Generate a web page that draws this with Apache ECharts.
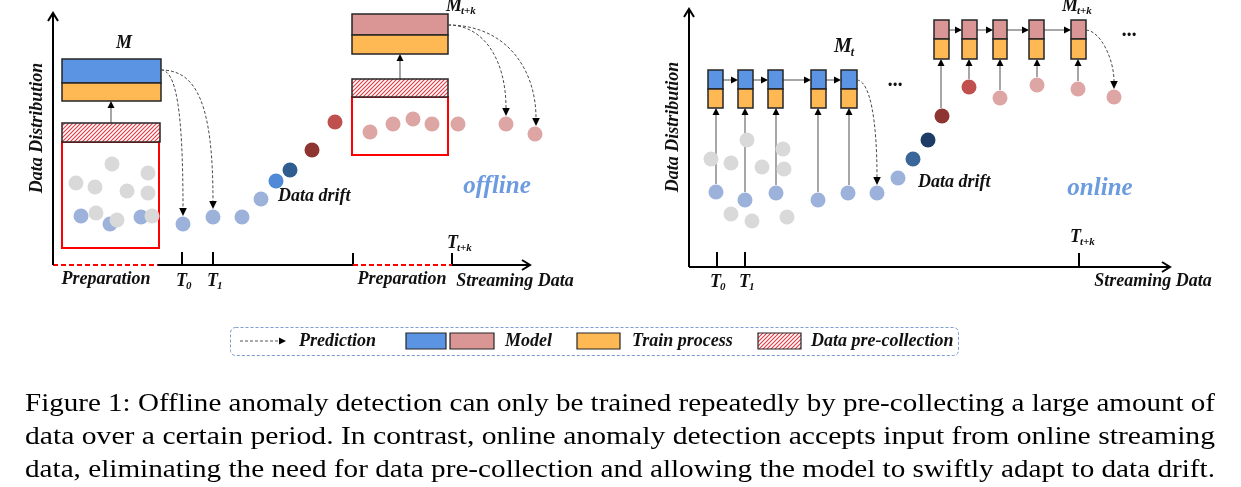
<!DOCTYPE html>
<html><head><meta charset="utf-8">
<script src="https://cdn.jsdelivr.net/npm/echarts@6/dist/echarts.min.js"></script>
<style>html,body{margin:0;padding:0;background:#fff}#c{width:1241px;height:487px}</style>
</head><body><div id="c"></div>
<script>
// ---------------- DATA (diagram coordinates) ----------------
// Offline panel
const offGrayDots   = [[112,164],[76,183],[95,187],[127,191],[148,173],[148,193],[96,213],[117,220],[152,216]];
const offBlueInBox  = [[81,216],[110,224],[141,217]];
const offStreamBlue = [[183,224],[213,217],[242,217],[261,199]];
const offDriftDots  = [[276,181],[290,170],[312,150],[335,122]];
const offPinkDots   = [[370,132],[393,124],[413,119],[432,124],[458,124],[506,124],[535,134]];
const offBlueModel  = [[62,59,161,83,101]];
const offPinkModel  = [[352,14,448,35,54]];
const offHatch      = [[62,123,160,142],[352,79,448,97]];
const offRedBox     = [[62,142,159,248],[352,97,448,155]];
const offTrainArrows= [[111,123,111,101],[400,79,400,54]];
const offPredCurves = [[161,70,176,70,183,110,183,216],[161,70,197,70,213,105,213,209],
                       [448,25,484,25,506,60,506,116],[448,25,507,25,536,70,536,126]];
const offAxisPlain  = [[158,265,353,265],[182,252,182,265],[213,252,213,265],[353,253,353,265],[452,253,452,265]];
const offAxisPrep   = [[53,265,158,265],[353,265,452,265]];
const offAxisArrow  = [[53,265,53,13],[452,265,530,265]];
// Online panel
const onGrayDots    = [[747,140],[711,159],[731,163],[762,167],[783,149],[784,169],[731,214],[752,221],[787,217]];
const onBlueDots    = [[716,192],[745,200],[776,193],[818,200],[848,193],[877,193],[898,178]];
const onDriftDots   = [[913,159],[928,140],[942,116],[969,87]];
const onPinkDots    = [[1000,98],[1037,85],[1078,89],[1114,97]];
const onBlueBoxX    = [[708,723],[738,753],[768,783],[811,826],[841,857]];
const onBlueBoxY    = [70,89,108];
const onPinkBoxX    = [[934,949],[962,977],[993,1007],[1029,1044],[1071,1086]];
const onPinkBoxY    = [20,39,59];
const onTrainArrows = [[716,184,716,108],[745,192,745,108],[776,185,776,108],[818,192,818,108],[849,185,849,108],
                       [941,108,941,59],[969,79,969,59],[1000,90,1000,59],[1037,77,1037,59],[1078,81,1078,59]];
const onChainArrows = [[723,80,738,80],[753,80,768,80],[783,80,811,80],[826,80,841,80],
                       [949,30,962,30],[977,30,993,30],[1007,30,1029,30],[1044,30,1071,30]];
const onPredCurves  = [[857,80,870,81,877,120,877,185],[1086,30,1101,31,1114,60,1114,89]];
const onAxisPlain   = [[717,252,717,267],[745,252,745,267],[1079,253,1079,267]];
const onAxisArrow   = [[689,267,689,9],[689,267,1170,267]];

const captionLines = [
  "Figure 1: Offline anomaly detection can only be trained repeatedly by pre-collecting a large amount of",
  "data over a certain period. In contrast, online anomaly detection accepts input from online streaming",
  "data, eliminating the need for data pre-collection and allowing the model to swiftly adapt to data drift."
];

// ---------------- STYLE ----------------
const BLUE='#5A94E2', PINK='#D99694', ORANGE='#FEB955';
const LIGHTBLUE='#9DB2DA', GRAY='#D9D9D9', LPINK='#DDA6A4';
const offDriftColors=['#4F89D8','#2F5D90','#8E3431','#C0504D'];
const onDriftColors=['#3A6699','#1F3C69','#8E3431','#C0504D'];
const SERIF='"Liberation Serif", serif';
const BI=(s)=>'italic bold '+s+'px '+SERIF;

function hatchCanvas(){
  const c=document.createElement('canvas');c.width=4;c.height=4;
  const g=c.getContext('2d');g.fillStyle='#fff';g.fillRect(0,0,4,4);
  g.strokeStyle='#E5353E';g.lineWidth=1.1;g.beginPath();
  g.moveTo(-1,5);g.lineTo(5,-1);g.moveTo(-1,1);g.lineTo(1,-1);g.moveTo(3,5);g.lineTo(5,3);g.stroke();
  return c;
}
const HATCH={image:hatchCanvas(),repeat:'repeat'};

function rectFrom(api,x0,y0,x1,y1){
  const a=api.coord([x0,y0]),b=api.coord([x1,y1]);
  return {x:Math.min(a[0],b[0]),y:Math.min(a[1],b[1]),width:Math.abs(b[0]-a[0]),height:Math.abs(b[1]-a[1])};
}
const base={type:'custom',coordinateSystem:'cartesian2d',silent:true,animation:false,clip:false};

function modelSeries(data,topColor,lw){
  return Object.assign({},base,{data,z:5,renderItem(p,api){
    const x0=api.value(0),y0=api.value(1),x1=api.value(2),ym=api.value(3),y1=api.value(4);
    return {type:'group',children:[
      {type:'rect',shape:rectFrom(api,x0,y0,x1,ym),style:{fill:topColor,stroke:'#262626',lineWidth:lw}},
      {type:'rect',shape:rectFrom(api,x0,ym,x1,y1),style:{fill:ORANGE,stroke:'#262626',lineWidth:lw}}]};
  }});
}
function rectSeries(data,style,z){
  return Object.assign({},base,{data,z:z||4,renderItem(p,api){
    return {type:'rect',shape:rectFrom(api,api.value(0),api.value(1),api.value(2),api.value(3)),style:Object.assign({},style)};
  }});
}
function lineSeries(data,o){
  return Object.assign({},base,{data,z:o.z||3,renderItem(p,api){
    const a=api.coord([api.value(0),api.value(1)]),b=api.coord([api.value(2),api.value(3)]);
    const dx=b[0]-a[0],dy=b[1]-a[1],L=Math.hypot(dx,dy),ux=dx/L,uy=dy/L;
    const hl=o.hl||7,hw=o.hw||3.5;
    const bx=b[0]-ux*hl,by=b[1]-uy*hl;
    const ch=[];
    if(o.head==='fill'){
      ch.push({type:'line',shape:{x1:a[0],y1:a[1],x2:bx,y2:by},style:{stroke:o.color,lineWidth:o.width,lineDash:o.dash||null}});
      ch.push({type:'polygon',shape:{points:[[b[0],b[1]],[bx-uy*hw,by+ux*hw],[bx+uy*hw,by-ux*hw]]},style:{fill:'#000'}});
    } else {
      ch.push({type:'line',shape:{x1:a[0],y1:a[1],x2:b[0],y2:b[1]},style:{stroke:o.color,lineWidth:o.width,lineDash:o.dash||null}});
      if(o.head==='open') ch.push({type:'polyline',shape:{points:[[bx-uy*hw,by+ux*hw],[b[0],b[1]],[bx+uy*hw,by-ux*hw]]},style:{stroke:'#000',lineWidth:o.width,fill:null}});
    }
    return {type:'group',children:ch};
  }});
}
function curveSeries(data){
  return Object.assign({},base,{data,z:6,renderItem(p,api){
    const P=[0,1,2,3].map(i=>api.coord([api.value(2*i),api.value(2*i+1)]));
    const dx=P[3][0]-P[2][0],dy=P[3][1]-P[2][1],L=Math.hypot(dx,dy),ux=dx/L,uy=dy/L;
    const hl=8,hw=3.8,bx=P[3][0]-ux*hl,by=P[3][1]-uy*hl;
    return {type:'group',children:[
      {type:'bezierCurve',shape:{x1:P[0][0],y1:P[0][1],cpx1:P[1][0],cpy1:P[1][1],cpx2:P[2][0],cpy2:P[2][1],x2:bx,y2:by},
       style:{stroke:'#4a4a4a',lineWidth:1,lineDash:[3,2],fill:null}},
      {type:'polygon',shape:{points:[[P[3][0],P[3][1]],[bx-uy*hw,by+ux*hw],[bx+uy*hw,by-ux*hw]]},style:{fill:'#000'}}]};
  }});
}
function dots(data,color,z){
  return {type:'scatter',data,symbolSize:15,silent:true,animation:false,z:z||7,
    itemStyle:{color:color,opacity:1}};
}
function colored(data,colors){return data.map((d,i)=>({value:d,itemStyle:{color:colors[i]}}));}

const series=[
  lineSeries(offAxisPlain,{color:'#000',width:2,head:null}),
  lineSeries(offAxisPrep,{color:'#FF0000',width:2,dash:[5,3],head:null}),
  lineSeries(offAxisArrow,{color:'#000',width:2,head:'open',hl:8,hw:5}),
  lineSeries(onAxisPlain,{color:'#000',width:2,head:null}),
  lineSeries(onAxisArrow,{color:'#000',width:2,head:'open',hl:8,hw:5}),
  rectSeries(offRedBox,{fill:'#fff',stroke:'#FF0000',lineWidth:2},2),
  rectSeries(offHatch,{fill:HATCH,stroke:'#262626',lineWidth:1.5},5),
  modelSeries(offBlueModel,BLUE,1.5),
  modelSeries(offPinkModel,PINK,1.5),
  lineSeries(offTrainArrows,{color:'#777',width:1.3,head:'fill',hl:7,hw:3.5}),
  curveSeries(offPredCurves),
  modelSeries(onBlueBoxX.map(([a,b])=>[a,onBlueBoxY[0],b,onBlueBoxY[1],onBlueBoxY[2]]),BLUE,1.5),
  modelSeries(onPinkBoxX.map(([a,b])=>[a,onPinkBoxY[0],b,onPinkBoxY[1],onPinkBoxY[2]]),PINK,1.5),
  lineSeries(onTrainArrows,{color:'#777',width:1.3,head:'fill',hl:7,hw:3.5}),
  lineSeries(onChainArrows,{color:'#777',width:1.3,head:'fill',hl:7,hw:3.5}),
  curveSeries(onPredCurves),
  dots(offBlueInBox,LIGHTBLUE,7),
  dots(offGrayDots,GRAY,8),
  dots(offStreamBlue,LIGHTBLUE,7),
  dots(colored(offDriftDots,offDriftColors),null,7),
  dots(offPinkDots,LPINK,7),
  dots(onGrayDots,GRAY,7),
  dots(onBlueDots,LIGHTBLUE,7),
  dots(colored(onDriftDots,onDriftColors),null,7),
  dots(onPinkDots,LPINK,7)
];

// ---------------- TEXT ----------------
function txt(x,y,s,font,opt){
  opt=opt||{};
  return {type:'text',x,y,rotation:opt.rot||0,z:50,silent:true,
    style:{text:s,font,fill:opt.fill||'#111',textAlign:opt.align||'left',textVerticalAlign:'middle'}};
}
const cv=document.createElement('canvas').getContext('2d');
function sub(x,y,main,subs,size,subSize){
  const els=[txt(x,y,main,BI(size))];
  cv.font=BI(size);
  const w=cv.measureText(main).width;
  els.push(txt(x+w-1,y+size*0.28,subs,BI(subSize)));
  return els;
}
const g=[];
g.push(txt(37,128,'Data Distribution',BI(18),{align:'center',rot:Math.PI/2}));
g.push(txt(124,43,'M',BI(18),{align:'center'}));
g.push(...sub(446,6,'M','t+k',18,11));
g.push(txt(106,279,'Preparation',BI(18),{align:'center'}));
g.push(txt(402,279,'Preparation',BI(18),{align:'center'}));
g.push(txt(515,281,'Streaming Data',BI(18),{align:'center'}));
g.push(...sub(176,281,'T','0',18,11));
g.push(...sub(207,281,'T','1',18,11));
g.push(...sub(447,243,'T','t+k',18,11));
g.push(txt(278,196,'Data drift',BI(18)));
g.push(txt(497,187,'offline',BI(25),{align:'center',fill:'#6C9BE0'}));
g.push(txt(673,127,'Data Distribution',BI(18),{align:'center',rot:Math.PI/2}));
g.push(...sub(834,47,'M','t',20,12));
g.push(...sub(1062,6,'M','t+k',18,11));
g.push(txt(895,86,'\u00b7\u00b7\u00b7',BI(20),{align:'center'}));
g.push(txt(1129,36,'\u00b7\u00b7\u00b7',BI(20),{align:'center'}));
g.push(...sub(710,282,'T','0',18,11));
g.push(...sub(739,282,'T','1',18,11));
g.push(...sub(1070,237,'T','t+k',18,11));
g.push(txt(1153,281,'Streaming Data',BI(18),{align:'center'}));
g.push(txt(918,182,'Data drift',BI(18)));
g.push(txt(1100,189,'online',BI(25),{align:'center',fill:'#6C9BE0'}));
// legend
g.push({type:'rect',z:40,silent:true,shape:{x:230.5,y:327.5,width:728,height:28,r:5},style:{fill:null,stroke:'#7E9CD0',lineWidth:1,lineDash:[3,2]}});
g.push({type:'line',z:41,silent:true,shape:{x1:240,y1:341,x2:279,y2:341},style:{stroke:'#555',lineWidth:1,lineDash:[3,2]}});
g.push({type:'polygon',z:41,silent:true,shape:{points:[[286,341],[279,337.5],[279,344.5]]},style:{fill:'#000'}});
g.push(txt(299,341,'Prediction',BI(18)));
g.push({type:'rect',z:41,silent:true,shape:{x:406,y:333,width:40,height:16},style:{fill:BLUE,stroke:'#262626',lineWidth:1.2}});
g.push({type:'rect',z:41,silent:true,shape:{x:450,y:333,width:44,height:16},style:{fill:PINK,stroke:'#262626',lineWidth:1.2}});
g.push(txt(505,341,'Model',BI(18)));
g.push({type:'rect',z:41,silent:true,shape:{x:577,y:333,width:43,height:16},style:{fill:ORANGE,stroke:'#262626',lineWidth:1.2}});
g.push(txt(632,341,'Train process',BI(18)));
g.push({type:'rect',z:41,silent:true,shape:{x:758,y:333,width:43,height:16},style:{fill:HATCH,stroke:'#262626',lineWidth:1.2}});
g.push(txt(811,341,'Data pre-collection',BI(18)));
// caption: each line stretched to the text block width (as in the source)
const capFont='26px '+SERIF;
cv.font=capFont;
const capX0=25, capX1=1215, capYs=[404,437,470];
captionLines.forEach((line,i)=>{
  const w=cv.measureText(line).width;
  g.push({type:'text',x:capX0,y:capYs[i],scaleX:(capX1-capX0)/w,z:50,silent:true,
    style:{text:line,font:capFont,fill:'#000',textAlign:'left',textVerticalAlign:'middle'}});
});

const chart=echarts.init(document.getElementById('c'),null,{renderer:'canvas'});
chart.setOption({
  animation:false,
  backgroundColor:'#fff',
  grid:{left:0,right:0,top:0,bottom:0},
  xAxis:{type:'value',min:0,max:1241,show:false},
  yAxis:{type:'value',min:0,max:487,inverse:true,show:false},
  series,
  graphic:{elements:g}
});
</script></body></html>
